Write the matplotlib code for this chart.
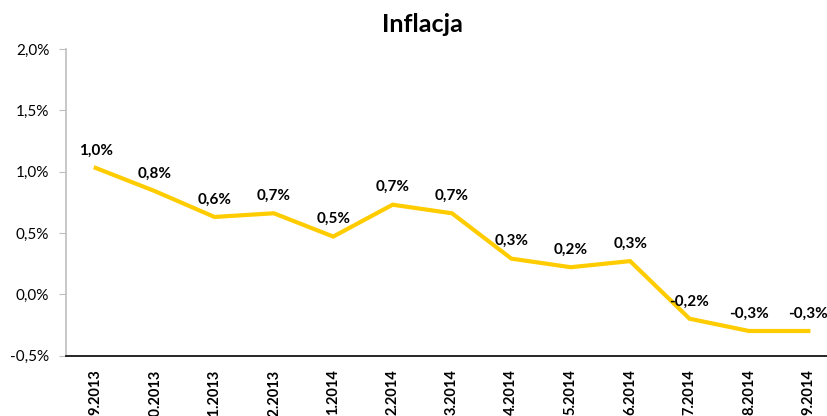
import matplotlib
matplotlib.use("Agg")
import matplotlib.pyplot as plt
from matplotlib.ticker import FuncFormatter

plt.rcParams['font.family'] = ['Lato', 'DejaVu Sans']

months = ["9.2013", "10.2013", "11.2013", "12.2013", "1.2014", "2.2014", "3.2014",
          "4.2014", "5.2014", "6.2014", "7.2014", "8.2014", "9.2014"]
inflation = [1.03, 0.84, 0.63, 0.66, 0.47, 0.73, 0.66, 0.29, 0.22, 0.27, -0.20, -0.30, -0.30]
yticks = [-0.5, 0.0, 0.5, 1.0, 1.5, 2.0]

fig = plt.figure(figsize=(8.27, 4.16), dpi=100)
ax = fig.add_axes([66/827, 1 - 355.5/416, (838 - 66)/827, (355.5 - 49)/416])

x = list(range(len(months)))
ax.plot(x, inflation, color='#FFCC00', lw=3.0, solid_joinstyle='miter', clip_on=False)

for xi, v in zip(x, inflation):
    lab = f"{v:.1f}".replace('.', ',') + "%"
    ax.annotate(lab, (xi, v), xytext=(0, 7.5), textcoords='offset points',
                ha='center', va='bottom', fontsize=11, fontweight='bold', color='black')

ax.set_xlim(-0.5, len(months) - 0.5)
ax.set_ylim(-0.5, 2.0)
ax.set_yticks(yticks)
ax.yaxis.set_major_formatter(FuncFormatter(lambda v, p: f"{v:.1f}".replace('.', ',').replace('-0,0', '0,0') + "%"))
ax.set_xticks(x)
ax.set_xticklabels(months, rotation=90, fontweight='bold', fontsize=10.5, va='top', ha='center')
ax.tick_params(axis='x', length=0, pad=10)
ax.tick_params(axis='y', length=5, color='#BFBFBF', labelsize=11, pad=7)

for s in ['top', 'right']:
    ax.spines[s].set_visible(False)
ax.spines['left'].set_color('#BFBFBF')
ax.spines['left'].set_linewidth(1.2)
ax.spines['bottom'].set_color('black')
ax.spines['bottom'].set_linewidth(1.2)

fig.text(422/827, 1 - 25/416, "Inflacja", ha='center', va='center', fontsize=18, fontweight='bold')

fig.savefig("out.png", dpi=100)
